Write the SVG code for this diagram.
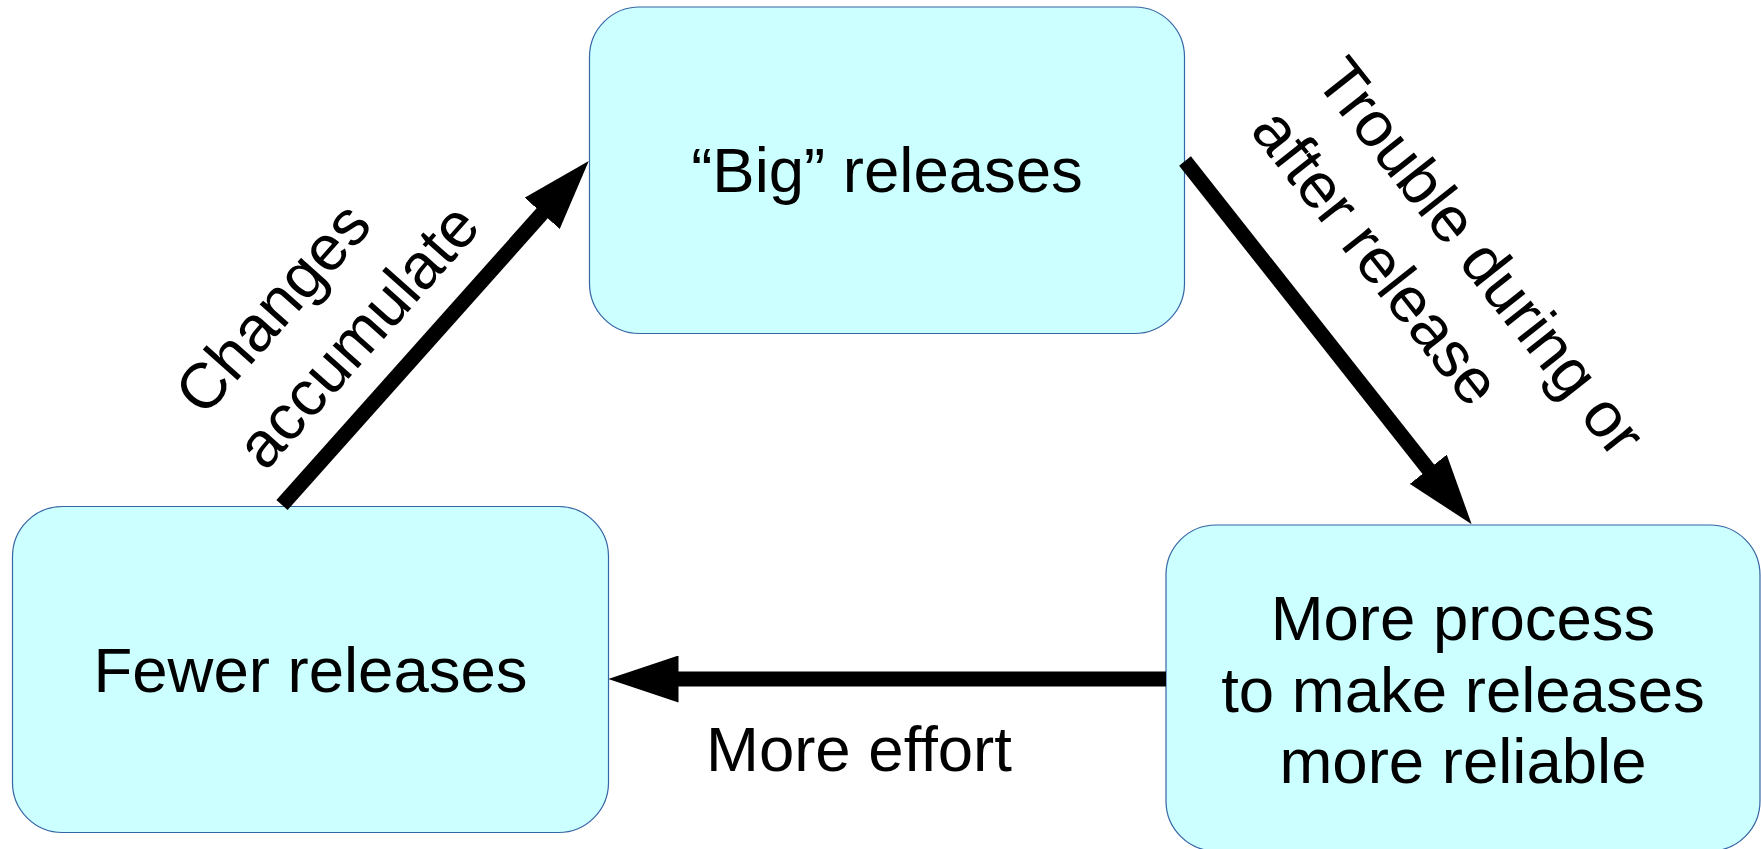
<svg xmlns="http://www.w3.org/2000/svg" width="1761" height="849" viewBox="0 0 1761 849">
<defs>
<style>
.box{fill:#ccffff;stroke:#3465a4;stroke-width:1.2}
.t{font-family:"Liberation Sans",Arial,sans-serif;font-size:63.5px;fill:#000}
.lbl{font-family:"Liberation Sans",Arial,sans-serif;font-size:64px;fill:#000}
.conn{stroke:#000;stroke-width:15;fill:none;stroke-linecap:butt}
</style>
<marker id="head" viewBox="0 0 70 47" refX="5" refY="23.5" markerWidth="70" markerHeight="47" markerUnits="userSpaceOnUse" orient="auto">
<path d="M0,0 L70,23.5 L0,47 Z" fill="#000"/>
</marker>
</defs>
<rect width="1761" height="849" fill="#fff"/>
<g id="node-big">
<rect class="box" x="589.5" y="7" width="595" height="326.5" rx="50" ry="50"/>
<text class="t" x="887" y="192" text-anchor="middle">“Big” releases</text>
</g>
<g id="node-fewer">
<rect class="box" x="12.5" y="506.5" width="596" height="326" rx="50" ry="50"/>
<text class="t" x="310.5" y="692" text-anchor="middle">Fewer releases</text>
</g>
<g id="node-process">
<rect class="box" x="1166" y="525" width="594" height="326" rx="50" ry="50"/>
<text class="t" text-anchor="middle"><tspan x="1463" y="640">More process</tspan><tspan x="1463" y="712">to make releases</tspan><tspan x="1463" y="783">more reliable</tspan></text>
</g>
<g id="connectors">
<line class="conn" x1="282" y1="505" x2="545.5" y2="209.6" marker-end="url(#head)"/>
<line class="conn" x1="1185" y1="161" x2="1431.4" y2="473.2" marker-end="url(#head)"/>
<line class="conn" x1="1166" y1="679" x2="673.5" y2="679" marker-end="url(#head)"/>
<g transform="translate(265.2,472.6) rotate(-48.37)">
<text class="lbl"><tspan x="0" y="-82">Changes</tspan><tspan x="0" y="0">accumulate</tspan></text>
</g>
<g transform="translate(1249.1,130.8) rotate(51.7)">
<text class="lbl"><tspan x="0" y="-82">Trouble during or</tspan><tspan x="0" y="0">after release</tspan></text>
</g>
<text class="t" x="706" y="771">More effort</text>
</g>
</svg>
